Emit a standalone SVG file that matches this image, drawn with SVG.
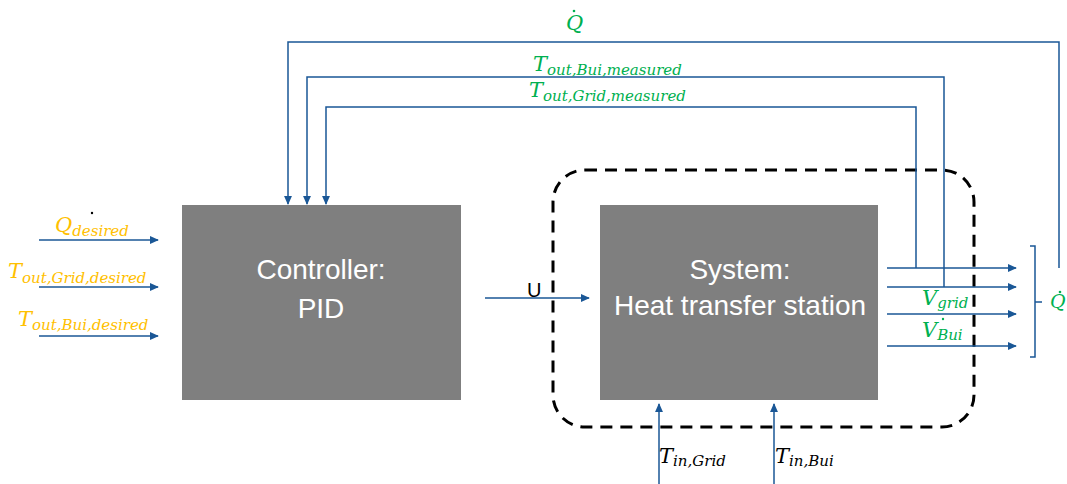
<svg xmlns="http://www.w3.org/2000/svg" width="1067" height="484" viewBox="0 0 1067 484">
<style>
.box{fill:#7f7f7f}
.ln{stroke:#1a5796;stroke-width:1.5;fill:none}
.btxt{fill:#fff;font-family:"Liberation Sans",Arial,sans-serif;font-size:28px;text-anchor:middle}
.m{font-family:"DejaVu Serif","Liberation Serif",serif;font-style:italic;font-size:21px}
.g{fill:#00b050}
.o{fill:#ffc000}
.k{fill:#000}
.s{font-size:15px}
</style>
<defs>
<marker id="ah" viewBox="0 0 10 10" refX="9" refY="5" markerWidth="9" markerHeight="8" markerUnits="userSpaceOnUse" orient="auto" preserveAspectRatio="none">
<path d="M0,0 L10,5 L0,10 z" fill="#1a5796"/>
</marker>
</defs>
<rect width="1067" height="484" fill="#fff"/>
<g id="boundary">
<rect x="553" y="170" width="421" height="257" rx="32" ry="32" fill="none" stroke="#000" stroke-width="3" stroke-dasharray="12,8"/>
</g>
<g id="controller">
<rect class="box" x="182" y="205" width="279" height="195"/>
<text class="btxt" x="321" y="279">Controller:</text>
<text class="btxt" x="321" y="318">PID</text>
</g>
<g id="system">
<rect class="box" x="600" y="205" width="278" height="195"/>
<text class="btxt" x="740" y="279">System:</text>
<text class="btxt" x="740" y="315">Heat transfer station</text>
</g>
<g id="connectors">
<path class="ln" d="M39,240 H158" marker-end="url(#ah)"/>
<path class="ln" d="M39,287 H158" marker-end="url(#ah)"/>
<path class="ln" d="M39,336 H158" marker-end="url(#ah)"/>
<path class="ln" d="M485,298 H589" marker-end="url(#ah)"/>
<path class="ln" d="M887,268 H1016" marker-end="url(#ah)"/>
<path class="ln" d="M887,287 H1016" marker-end="url(#ah)"/>
<path class="ln" d="M887,314 H1016" marker-end="url(#ah)"/>
<path class="ln" d="M887,346 H1016" marker-end="url(#ah)"/>
<path class="ln" d="M916,268 V107 H326 V204" marker-end="url(#ah)"/>
<path class="ln" d="M944,287 V77 H307 V204" marker-end="url(#ah)"/>
<path class="ln" d="M1059,268 V42 H288 V204" marker-end="url(#ah)"/>
<path class="ln" d="M659,484 V404" marker-end="url(#ah)"/>
<path class="ln" d="M774,484 V404" marker-end="url(#ah)"/>
<path class="ln" d="M1030,246 H1035 V357 H1030 M1035,302 H1042"/>
</g>
<g id="labels">
<circle cx="92" cy="213" r="1.2" fill="#000"/>
<text class="m o" x="55" y="232">Q<tspan class="s" dy="4">desired</tspan></text>
<text class="m o" x="8" y="278">T<tspan class="s" dy="5">out,Grid,desired</tspan></text>
<text class="m o" x="18" y="326">T<tspan class="s" dy="4">out,Bui,desired</tspan></text>
<text x="527" y="297" font-family="Liberation Sans,Arial,sans-serif" font-size="20" fill="#000">U</text>
<text class="m g" x="566" y="30" font-size="19">Q</text>
<circle cx="574" cy="11" r="1.3" fill="#00b050"/>
<text class="m g" x="533" y="71">T<tspan class="s" dy="4">out,Bui,measured</tspan></text>
<text class="m g" x="529" y="97">T<tspan class="s" dy="4">out,Grid,measured</tspan></text>
<text class="m g" x="922" y="305">V<tspan class="s" dy="3">grid</tspan></text>
<text class="m g" x="922" y="337">V<tspan class="s" dy="3">Bui</tspan></text>
<circle cx="943" cy="319" r="1.2" fill="#00b050"/>
<text class="m g" x="1050" y="308" style="font-size:19px">Q</text>
<circle cx="1060" cy="292" r="1.3" fill="#00b050"/>
<text class="m k" x="659" y="463">T<tspan class="s" dy="3">in,Grid</tspan></text>
<text class="m k" x="775" y="463">T<tspan class="s" dy="3">in,Bui</tspan></text>
</g>
</svg>
